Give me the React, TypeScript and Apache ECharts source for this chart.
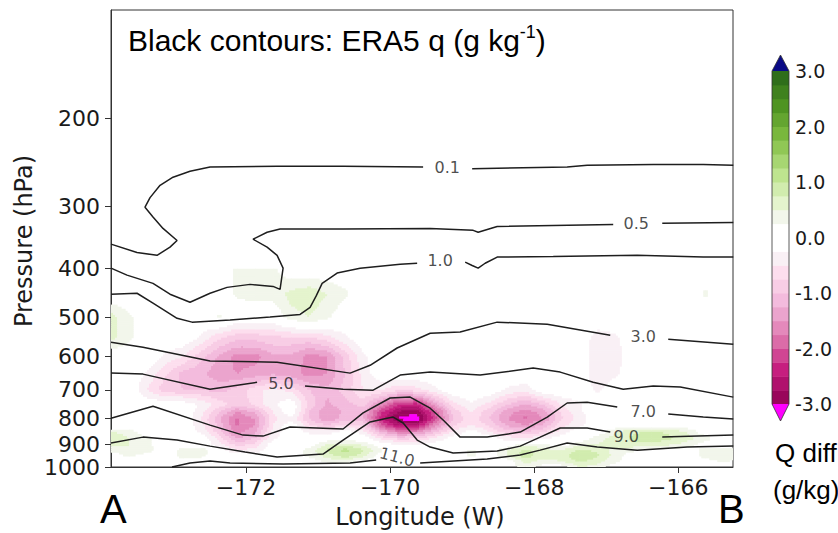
import React, { useEffect, useRef } from "react";
import * as echarts from "echarts";

// ---------- grid of the Q-difference field (g/kg) ----------
const lonNodes = [
  -173.875, -173.625, -173.375, -173.125, -172.875, -172.625, -172.375, -172.125, -171.875,
  -171.625, -171.375, -171.125, -170.875, -170.625, -170.375, -170.125, -169.875, -169.625,
  -169.375, -169.125, -168.875, -168.625, -168.375, -168.125, -167.875, -167.625, -167.375,
  -167.125, -166.875, -166.625, -166.375, -166.125, -165.875, -165.625, -165.375, -165.125,
];
const pLevels = [400, 450, 500, 550, 600, 650, 700, 750, 775, 800, 825, 850, 875, 900, 925, 950, 975, 1000];

const q400 = [0,0,0,0,0,0,0,0.3,0.35,0.3,0,0,0,0,0,0,0,0,0,0,0,0,0,0,0,0,0,0,0,0,0,0,0,0,0,0];
const q450 = [0,0,0,0,0,0,0,0.3,0.35,0.35,0.6,0.7,0.5,0.3,0,0,0,0,0,0,0,0,0,0,0,0,0,0,0,0,0,0,0,0.3,0,0];
const q500 = [0.6,0.3,0,0,0,0,0.3,0,0,0,0.4,0.5,0.3,0,0,0,0,0,0,0,0,0,0,0,0,0,0,0,0,0,0,0,0,0,0,0];
const q550 = [0.6,0.3,0,0,0,-0.3,-0.7,-0.9,-0.9,-0.8,-0.8,-0.8,-0.6,-0.3,0,0,0,0,0,0,0,0,0,0,0,0,0,-0.4,-0.3,0,0,0,0,0,0,0];
const q600 = [0,0,0,-0.3,-0.5,-0.9,-1.3,-1.6,-1.6,-1.3,-1.3,-1.6,-1.5,-0.9,-0.3,0,0,0,0,0,0,0,0,0,0,0,0,-0.5,-0.4,0,0,0,0,0,0,0];
const q650 = [0,0,-0.3,-0.7,-1.1,-1.2,-1.4,-1.5,-1.4,-1.3,-1.4,-1.6,-1.5,-1.0,-0.4,0,0,0,0,0,0,0,0,0,0,0,0,-0.5,-0.3,0,0,0,0,0,0,0];
const q700 = [0,0,-0.5,-0.9,-1.0,-1.0,-1.1,-0.9,-0.6,-0.4,-0.6,-1.0,-1.2,-0.9,-0.5,-0.5,-0.7,-0.6,-0.3,0,0,0,-0.3,-0.4,0,0,0,-0.3,0,0,0,0,0,0,0,0];
const q750 = [0,0,0,0,0,-0.3,-0.6,-0.9,-0.7,-0.3,0,-0.8,-1.3,-1.1,-0.9,-1.6,-2.3,-2.4,-1.4,-0.6,-0.3,-0.6,-1.0,-1.3,-1.0,-0.5,-0.3,0,0,0,0,0,0,0,0,0];
const q775 = [0,0,0,0,0,-0.4,-1.0,-1.5,-1.2,-0.5,0,-1.0,-1.5,-1.2,-1.2,-2.2,-2.8,-2.9,-2.0,-0.9,-0.5,-0.9,-1.4,-1.6,-1.4,-0.7,-0.3,0,0,0,0,0,0,0,0,0];
const q800 = [0,0,0,0,0,-0.5,-1.2,-1.8,-1.5,-0.6,-0.3,-1.0,-1.5,-1.1,-1.2,-2.4,-3.05,-3.2,-2.1,-1.0,-0.6,-1.0,-1.5,-1.8,-1.5,-0.8,-0.4,0,0,0,0,0,0,0,0,0];
const q825 = [0,0,0,0,0,-0.4,-1.1,-1.8,-1.5,-0.5,0,-0.7,-1.0,-0.7,-0.8,-2.0,-2.6,-2.5,-1.6,-0.8,-0.5,-0.8,-1.3,-1.5,-1.2,-0.6,-0.3,0,0,0,0,0,0,0,0,0];
const q850 = [0.5,0.4,0,0,0,-0.3,-0.9,-1.6,-1.3,-0.4,0,-0.3,-0.4,0,-0.4,-1.2,-1.7,-1.6,-1.0,-0.5,0,-0.5,-0.9,-1.0,-0.8,-0.4,0,0,0.5,0.7,0.8,0.7,0.5,0,0,0];
const q875 = [0.7,0.5,0.3,0,0,0,-0.6,-1.3,-1.0,-0.3,0,0,0,0,0,-0.6,-0.9,-0.8,-0.5,0,0,0,-0.4,-0.5,-0.3,0,0,0.4,0.6,0.8,0.9,0.8,0.6,0.4,0,0];
const q900 = [0.6,0.5,0.3,0,0,0,-0.4,-0.9,-0.7,0,0,0,0.5,0.6,0.4,0,-0.3,-0.3,0,0,0,0,0,0.4,0.3,0,0.4,0.5,0.6,0.7,0.7,0.6,0.4,0,0,0];
const q925 = [0.3,0.5,0.4,0,0.4,0.4,0,-0.5,-0.4,0,0,0.4,0.8,1.1,0.8,0.3,0,0,0,0,0.3,0,0.5,0.8,0.6,0.5,0.8,0.7,0.4,0.3,0,0,0,0.4,0.5,0.3];
const q950 = [0,0.3,0,0,0.4,0.3,0,0,0,0,0,0.3,0.6,0.9,0.6,0,0,0,0,0,0.3,0,0.5,0.9,0.6,0.6,1.0,0.8,0.4,0,0,0,0,0.4,0.5,0.3];
const q975 = [0,0,0,0,0,0,0,0,0,0,0,0,0.3,0.4,0,0,0,0,0,0,0,0,0,0.6,0.4,0.5,0.8,0.6,0.3,0,0,0,0,0,0.3,0];
const q1000 = [0,0,0,0,0,0,0,0,0,0,0,0,0,0,0,0,0,0,0,0,0,0,0,0.4,0,0,0.5,0.4,0,0,0,0,0,0,0,0];

const fieldRows = [q400, q450, q500, q550, q600, q650, q700, q750, q775, q800, q825, q850, q875, q900, q925, q950, q975, q1000];

// ---------- ticks ----------
const xTicks = [-172, -170, -168, -166];
const yTicks = [200, 300, 400, 500, 600, 700, 800, 900, 1000];
const cbLevels = [-3, -2.75, -2.5, -2.25, -2, -1.75, -1.5, -1.25, -1, -0.75, -0.5, -0.25, 0, 0.25, 0.5, 0.75, 1, 1.25, 1.5, 1.75, 2, 2.25, 2.5, 2.75];

// ---------- black contours: ERA5 q (lon, hPa) ----------
const c01a = [[-169.542,250],[-170.653,249],[-171.569,249],[-172.5,250],[-172.778,255],[-173.014,262],[-173.194,272],[-173.333,288],[-173.403,301],[-173.292,315],[-173.153,332],[-172.958,351],[-173.056,362],[-173.236,376],[-173.514,371],[-173.875,357]];
const c01b = [[-168.861,252],[-167.542,250],[-167.264,248],[-166.347,247],[-165.653,247],[-165.236,248]];
const c05a = [[-166.903,326],[-168.514,329],[-168.778,338],[-168.847,335],[-169.444,332],[-170.653,333],[-171.528,333],[-171.708,338],[-171.903,349],[-171.708,362],[-171.569,376],[-171.486,399],[-171.528,440],[-171.625,434],[-171.944,430],[-172.264,436],[-172.5,448],[-172.778,467],[-173.056,450],[-173.292,428],[-173.653,412],[-173.875,399]];
const c05b = [[-166.222,324],[-165.236,323]];
const c10a = [[-173.875,450],[-173.514,448],[-173.292,469],[-172.958,503],[-172.75,512],[-172.222,507],[-171.667,500],[-171.25,494],[-171.111,478],[-171.028,454],[-170.944,428],[-170.736,408],[-170.417,399],[-169.861,392],[-169.625,390]];
const c10b = [[-168.958,388],[-168.861,394],[-168.778,399],[-168.681,390],[-168.514,379],[-167.736,378],[-166.569,376],[-165.653,379],[-165.236,379]];
const c30a = [[-173.875,562],[-173.431,575],[-172.5,613],[-171.569,616],[-170.556,648],[-170.278,625],[-169.903,577],[-169.444,539],[-169.028,536],[-168.514,512],[-167.819,517],[-167.361,531],[-166.944,544]];
const c30b = [[-166.139,554],[-165.236,567]];
const c50a = [[-173.875,648],[-173.431,651],[-172.5,698],[-171.847,676]];
const c50b = [[-171.181,688],[-170.653,698],[-170.236,701],[-169.861,654],[-169.444,645],[-168.75,654],[-168.014,633],[-167.639,645],[-167.181,676],[-166.764,698],[-166.347,688],[-165.972,691],[-165.236,724]];
const c70a = [[-173.875,798],[-173.292,755],[-172.5,824],[-172.042,863],[-171.764,867],[-171.389,831],[-170.653,839],[-170.375,779],[-170,727],[-169.722,724],[-169.444,762],[-169.264,805],[-169.028,871],[-168.653,871],[-168.194,851],[-167.819,794],[-167.542,744],[-167.264,741],[-166.847,758]];
const c70b = [[-166.139,783],[-165.653,794],[-165.236,801]];
const c90a = [[-173.875,895],[-173.431,871],[-172.958,883],[-172.5,908],[-172.014,933],[-171.569,955],[-170.931,942],[-170.792,912],[-170.653,883],[-170.278,812],[-170.042,798],[-169.958,794],[-169.819,816],[-169.625,883],[-169.444,912],[-169.125,937],[-168.514,929],[-168.194,908],[-167.917,871],[-167.639,835],[-167.264,835],[-166.944,851]];
const c90b = [[-166.222,871],[-165.236,863]];
const c110a = [[-173.028,1000],[-172.778,982],[-172.5,973],[-172.222,982],[-171.486,986],[-170.556,982],[-170.194,968]];
const c110b = [[-169.583,982],[-168.653,964],[-168.194,946],[-167.917,925],[-167.542,895],[-167.125,912],[-166.569,925],[-165.875,912],[-165.236,908]];

const contourParts = [c01a, c01b, c05a, c05b, c10a, c10b, c30a, c30b, c50a, c50b, c70a, c70b, c90a, c90b, c110a, c110b];

const labelText = ["0.1", "0.5", "1.0", "3.0", "5.0", "7.0", "9.0", "11.0"];
const labelLon = [-169.208, -166.583, -169.306, -166.486, -171.514, -166.486, -166.722, -169.903];
const labelP = [250, 324, 385, 548, 679, 772, 867, 955];
const labelRot = [0, 0, 0, 0, 0, 0, 0, -15];

// ---------- colours ----------
const PIYG = [
  [142, 1, 82], [197, 27, 125], [222, 119, 174], [241, 182, 218], [253, 224, 239], [247, 247, 247],
  [230, 245, 208], [184, 225, 134], [127, 188, 65], [77, 146, 33], [39, 100, 25],
];
function piyg(t: number): string {
  const s = Math.max(0, Math.min(1, t)) * 10;
  const k = Math.min(9, Math.floor(s));
  const f = s - k;
  const a = PIYG[k], b = PIYG[k + 1];
  const c = a.map((v, i) => Math.round(v + (b[i] - v) * f));
  return `rgb(${c[0]},${c[1]},${c[2]})`;
}
const OVER = "#0a0a86";
const UNDER = "#ff00ff";
function bandColor(v: number): string | null {
  if (v > 3) return OVER;
  if (v < -3) return UNDER;
  const k = Math.min(23, Math.floor((v + 3) / 0.25));
  if (k === 11 || k === 12) return null;
  if (k === 10) return piyg(0.47);
  if (k === 13) return piyg(0.53);
  return piyg((k + 0.5) / 24);
}

const STEP = 2;

const GRID = { left: 111, top: 10, right: 733, bottom: 467 };
const CB = { left: 772, top: 71, width: 17, height: 333 };

export default function App() {
  const ref = useRef<HTMLDivElement>(null);
  useEffect(() => {
    if (!ref.current) return;
    const chart = echarts.init(ref.current, undefined, { renderer: "svg" });

    const cells: number[][] = [];
    for (let j = 0; j < pLevels.length - 1; j++)
      for (let i = 0; i < lonNodes.length - 1; i++) cells.push([lonNodes[i], pLevels[j], i, j]);

    const renderField = (params: any, api: any) => {
      const i = api.value(2) as number;
      const j = api.value(3) as number;
      const r0 = fieldRows[j], r1 = fieldRows[j + 1];
      const v00 = r0[i], v10 = r0[i + 1], v01 = r1[i], v11 = r1[i + 1];
      if (Math.max(Math.abs(v00), Math.abs(v10), Math.abs(v01), Math.abs(v11)) < 0.25)
        return { type: "group", children: [] };
      const a = api.coord([lonNodes[i], pLevels[j]]);
      const b = api.coord([lonNodes[i + 1], pLevels[j + 1]]);
      const cs = params.coordSys;
      const xmin = cs.x, xmax = cs.x + cs.width, ymin = cs.y, ymax = cs.y + cs.height;
      const nx = Math.max(1, Math.round(Math.abs(b[0] - a[0]) / STEP));
      const ny = Math.max(1, Math.round(Math.abs(b[1] - a[1]) / STEP));
      const children: any[] = [];
      for (let r = 0; r < ny; r++) {
        const fy = (r + 0.5) / ny;
        const ya = a[1] + ((b[1] - a[1]) * r) / ny;
        const yb = a[1] + ((b[1] - a[1]) * (r + 1)) / ny;
        const top = Math.max(ymin, Math.min(ya, yb));
        const bot = Math.min(ymax, Math.max(ya, yb) + 0.6);
        if (bot <= top) continue;
        let runColor: string | null = null;
        let runStart = 0;
        for (let c = 0; c <= nx; c++) {
          let col: string | null = null;
          if (c < nx) {
            const fx = (c + 0.5) / nx;
            const v =
              v00 * (1 - fx) * (1 - fy) + v10 * fx * (1 - fy) + v01 * (1 - fx) * fy + v11 * fx * fy;
            col = bandColor(v);
          }
          if (col !== runColor) {
            if (runColor) {
              let xa = a[0] + ((b[0] - a[0]) * runStart) / nx;
              let xb = a[0] + ((b[0] - a[0]) * c) / nx + 0.6;
              xa = Math.max(xmin, xa);
              xb = Math.min(xmax, xb);
              if (xb > xa)
                children.push({
                  type: "rect",
                  shape: { x: xa, y: top, width: xb - xa, height: bot - top },
                  style: { fill: runColor },
                  silent: true,
                });
            }
            runColor = col;
            runStart = c;
          }
        }
      }
      return { type: "group", children };
    };

    const renderCb = (_params: any, api: any) => {
      const lo = api.value(1) as number;
      const a = api.coord([0, lo]);
      const b = api.coord([1, lo + 0.25]);
      const fill = bandColor(lo + 0.125) || "#ffffff";
      return {
        type: "rect",
        shape: { x: a[0], y: b[1], width: b[0] - a[0], height: a[1] - b[1] + 0.5 },
        style: { fill },
        silent: true,
      };
    };

    const lineSeries = contourParts.map((d, k) => ({
      type: "line",
      name: "q" + k,
      xAxisIndex: 0,
      yAxisIndex: 0,
      data: d,
      symbol: "none",
      showSymbol: false,
      smooth: false,
      silent: true,
      z: 5,
      lineStyle: { color: "#1e1e1e", width: 1.5 },
    }));

    const labelData = labelText.map((t, k) => ({
      name: t,
      value: [labelLon[k], labelP[k]],
      label: { rotate: labelRot[k] },
    }));

    const cbx = CB.left, cbr = CB.left + CB.width, cbt = CB.top, cbb = CB.top + CB.height;
    const cbm = (cbx + cbr) / 2;

    const font = "DejaVu Sans";
    const sans = "Liberation Sans";

    chart.setOption({
      animation: false,
      backgroundColor: "#ffffff",
      grid: [
        {
          left: GRID.left,
          top: GRID.top,
          width: GRID.right - GRID.left,
          height: GRID.bottom - GRID.top,
          show: true,
          borderColor: "#333",
          borderWidth: 1,
          backgroundColor: "transparent",
        },
        { left: CB.left, top: CB.top, width: CB.width, height: CB.height, show: false },
      ],
      xAxis: [
        {
          type: "value",
          gridIndex: 0,
          min: -173.875,
          max: -165.24,
          axisLine: { show: true, lineStyle: { color: "#333", width: 1 } },
          axisTick: { show: true, length: 6, customValues: xTicks, lineStyle: { color: "#333" } },
          axisLabel: {
            customValues: xTicks,
            formatter: (v: number) => (v < 0 ? "\u2212" + Math.abs(v) : String(v)),
            fontSize: 22,
            fontFamily: font,
            color: "#1a1a1a",
            margin: 9,
          },
          splitLine: { show: false },
        },
        { type: "value", gridIndex: 1, min: 0, max: 1, show: false },
      ],
      yAxis: [
        {
          type: "log",
          gridIndex: 0,
          inverse: true,
          min: 121,
          max: 1000,
          axisLine: { show: true, lineStyle: { color: "#333", width: 1 } },
          axisTick: { show: true, length: 6, customValues: yTicks, lineStyle: { color: "#333" } },
          minorTick: { show: false },
          axisLabel: {
            customValues: yTicks,
            formatter: (v: number) => String(Math.round(v)),
            fontSize: 22,
            fontFamily: font,
            color: "#1a1a1a",
            margin: 11,
          },
          splitLine: { show: false },
          minorSplitLine: { show: false },
        },
        {
          type: "value",
          gridIndex: 1,
          min: -3,
          max: 3,
          interval: 1,
          position: "right",
          axisLine: { show: false },
          axisTick: { show: true, length: 5, lineStyle: { color: "#333" } },
          axisLabel: {
            formatter: (v: number) => v.toFixed(1),
            fontSize: 19,
            fontFamily: font,
            color: "#1a1a1a",
            margin: 6,
          },
          splitLine: { show: false },
        },
      ],
      series: [
        {
          type: "custom",
          name: "Q diff",
          xAxisIndex: 0,
          yAxisIndex: 0,
          data: cells,
          encode: { x: 0, y: 1 },
          renderItem: renderField,
          silent: true,
          z: 1,
        },
        ...lineSeries,
        {
          type: "scatter",
          name: "labels",
          xAxisIndex: 0,
          yAxisIndex: 0,
          data: labelData,
          symbol: "circle",
          symbolSize: 1,
          itemStyle: { color: "rgba(0,0,0,0)" },
          silent: true,
          z: 6,
          label: {
            show: true,
            position: "inside",
            formatter: "{b}",
            fontSize: 16,
            fontFamily: font,
            color: "#1e1e1e",
          },
        },
        {
          type: "custom",
          name: "colorbar",
          xAxisIndex: 1,
          yAxisIndex: 1,
          data: cbLevels.map((l) => [0, l]),
          encode: { x: 0, y: 1 },
          renderItem: renderCb,
          silent: true,
          z: 1,
        },
      ],
      graphic: [
        {
          type: "polygon",
          shape: { points: [[cbx, cbt], [cbr, cbt], [cbm, cbt - 16]] },
          style: { fill: OVER, stroke: "none" },
          z: 50,
        },
        {
          type: "polygon",
          shape: { points: [[cbx, cbb], [cbr, cbb], [cbm, cbb + 17]] },
          style: { fill: UNDER, stroke: "none" },
          z: 50,
        },
        {
          type: "polygon",
          shape: {
            points: [[cbx, cbt], [cbm, cbt - 16], [cbr, cbt], [cbr, cbb], [cbm, cbb + 17], [cbx, cbb]],
          },
          style: { fill: "none", stroke: "#333", lineWidth: 0.8 },
          z: 60,
        },
        {
          type: "text",
          x: 128,
          y: 40,
          z: 60,
          style: {
            text: "{a|Black contours: ERA5 q (g kg}{s|-1}{a|)}",
            verticalAlign: "middle",
            rich: {
              a: { fontSize: 30, fontFamily: sans, fill: "#000", lineHeight: 34 },
              s: { fontSize: 18, fontFamily: sans, fill: "#000", verticalAlign: "top", lineHeight: 34 },
            },
          },
        },
        {
          type: "text",
          x: 24,
          y: 241,
          rotation: Math.PI / 2,
          style: {
            text: "Pressure (hPa)",
            align: "center",
            verticalAlign: "middle",
            fontSize: 24,
            fontFamily: font,
            fill: "#1a1a1a",
          },
        },
        {
          type: "text",
          x: 420,
          y: 517,
          style: {
            text: "Longitude (W)",
            align: "center",
            verticalAlign: "middle",
            fontSize: 24,
            fontFamily: font,
            fill: "#1a1a1a",
          },
        },
        {
          type: "text",
          x: 100,
          y: 509,
          style: { text: "A", verticalAlign: "middle", fontSize: 40, fontFamily: sans, fill: "#000" },
        },
        {
          type: "text",
          x: 718,
          y: 509,
          style: { text: "B", verticalAlign: "middle", fontSize: 40, fontFamily: sans, fill: "#000" },
        },
        {
          type: "text",
          x: 775,
          y: 453,
          style: { text: "Q diff", verticalAlign: "middle", fontSize: 26, fontFamily: sans, fill: "#000" },
        },
        {
          type: "text",
          x: 773,
          y: 490,
          style: { text: "(g/kg)", verticalAlign: "middle", fontSize: 26, fontFamily: sans, fill: "#000" },
        },
      ],
    });
    return () => chart.dispose();
  }, []);
  return (
    <div
      ref={ref}
      style={{ position: "fixed", left: 0, top: 0, width: 838, height: 533, background: "#fff" }}
    />
  );
}
